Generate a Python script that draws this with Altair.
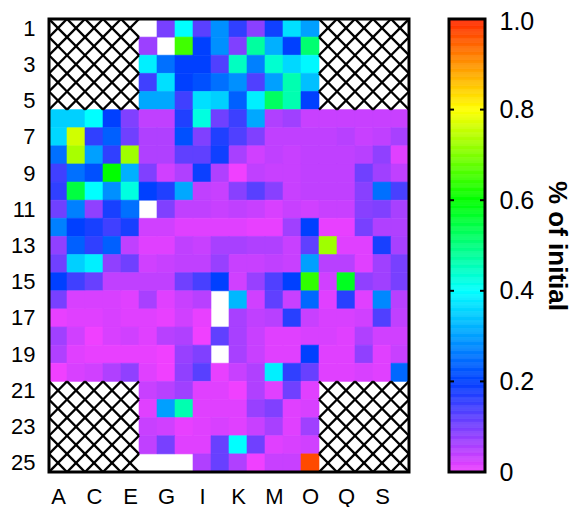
import altair as alt
import pandas as pd

# ---------------- data ----------------
axis_letters = ["A", "C", "E", "G", "I", "K", "M", "O", "Q", "S"]
row_ticks = [1, 3, 5, 7, 9, 11, 13, 15, 17, 19, 21, 23, 25]
N = None  # no value (white cell or hatched)

r1 = [N, N, N, N, N, N, 0.10, 0.40, 0.125, 0.284, 0.16, 0.085, 0.187, 0.368, 0.30, N, N, N, N, N]
r2 = [N, N, N, N, N, 0.07, N, 0.65, 0.20, 0.284, 0.093, 0.475, 0.317, 0.20, 0.512, N, N, N, N, N]
r3 = [N, N, N, N, N, 0.384, 0.25, 0.20, 0.20, 0.133, 0.449, 0.267, 0.437, 0.359, 0.393, N, N, N, N, N]
r4 = [N, N, N, N, N, 0.147, 0.368, 0.20, 0.217, 0.25, 0.284, 0.133, 0.30, 0.462, 0.334, N, N, N, N, N]
r5 = [N, N, N, N, N, 0.309, 0.309, 0.147, 0.368, 0.351, 0.233, 0.384, 0.525, 0.462, 0.20, N, N, N, N, N]
r6 = [0.351, 0.351, 0.40, 0.20, 0.093, 0.04, 0.04, 0.173, 0.424, 0.107, 0.15, 0.309, 0.053, 0.067, 0.033, 0.033, 0.033, 0.033, 0.033, 0.033]
r7 = [0.359, 0.763, 0.16, 0.233, 0.107, 0.053, 0.053, 0.217, 0.093, 0.173, 0.133, 0.093, 0.04, 0.04, 0.04, 0.04, 0.047, 0.033, 0.04, 0.06]
r8 = [0.25, 0.732, 0.30, 0.16, 0.725, 0.053, 0.053, 0.12, 0.12, 0.187, 0.06, 0.027, 0.04, 0.033, 0.04, 0.04, 0.04, 0.047, 0.08, 0.013]
r9 = [0.147, 0.25, 0.217, 0.60, 0.317, 0.093, 0.027, 0.053, 0.19, 0.053, 0.0, 0.04, 0.033, 0.033, 0.04, 0.04, 0.04, 0.107, 0.067, 0.04]
r10 = [0.16, 0.55, 0.40, 0.284, 0.424, 0.20, 0.173, 0.309, 0.04, 0.033, 0.087, 0.127, 0.087, 0.033, 0.04, 0.04, 0.04, 0.087, 0.25, 0.14]
r11 = [0.107, 0.267, 0.08, 0.18, 0.25, N, 0.093, 0.04, 0.04, 0.033, 0.04, 0.033, 0.02, 0.033, 0.027, 0.033, 0.033, 0.087, 0.093, 0.06]
r12 = [0.267, 0.20, 0.18, 0.147, 0.18, 0.027, 0.027, 0.013, 0.013, 0.013, 0.013, 0.007, 0.007, 0.067, 0.20, 0.007, 0.007, 0.10, 0.053, 0.053]
r13 = [0.08, 0.233, 0.16, 0.233, 0.04, 0.013, 0.013, 0.04, 0.033, 0.06, 0.06, 0.053, 0.053, 0.033, 0.12, 0.725, 0.013, 0.013, 0.18, 0.06]
r14 = [0.107, 0.351, 0.384, 0.08, 0.107, 0.027, 0.033, 0.04, 0.04, 0.073, 0.033, 0.033, 0.04, 0.033, 0.30, 0.047, 0.047, 0.013, 0.067, 0.10]
r15 = [0.20, 0.147, 0.113, 0.04, 0.04, 0.04, 0.04, 0.107, 0.14, 0.20, 0.027, 0.073, 0.133, 0.20, 0.638, 0.027, 0.575, 0.08, 0.067, 0.10]
r16 = [0.10, 0.02, 0.02, 0.02, 0.013, 0.06, 0.013, 0.033, 0.047, N, 0.326, 0.027, 0.12, 0.033, 0.242, 0.013, 0.167, 0.013, 0.275, 0.047]
r17 = [0.007, 0.013, 0.013, 0.02, 0.013, 0.013, 0.007, 0.027, 0.007, N, 0.06, 0.04, 0.047, 0.167, 0.033, 0.02, 0.02, 0.027, 0.133, 0.04]
r18 = [0.067, 0.027, 0.0, 0.02, 0.027, 0.013, 0.047, 0.053, 0.0, 0.12, 0.06, 0.033, 0.013, 0.013, 0.02, 0.02, 0.013, 0.053, 0.027, 0.027]
r19 = [0.053, 0.013, 0.007, 0.007, 0.007, 0.007, 0.0, 0.073, 0.093, N, 0.06, 0.033, 0.013, 0.013, 0.20, 0.013, 0.013, 0.08, 0.013, 0.033]
r20 = [0.0, 0.02, 0.027, 0.053, 0.08, 0.013, 0.0, 0.08, 0.127, 0.007, 0.033, 0.053, 0.384, 0.16, 0.113, 0.013, 0.013, 0.02, 0.013, 0.242]
r21 = [N, N, N, N, N, 0.033, 0.047, 0.067, 0.013, 0.013, 0.0, 0.053, 0.013, 0.107, 0.013, N, N, N, N, N]
r22 = [N, N, N, N, N, 0.013, 0.30, 0.462, 0.013, 0.013, 0.013, 0.073, 0.093, 0.013, 0.02, N, N, N, N, N]
r23 = [N, N, N, N, N, 0.033, 0.027, 0.007, 0.013, 0.02, 0.013, 0.033, 0.06, 0.013, 0.067, N, N, N, N, N]
r24 = [N, N, N, N, N, 0.04, 0.10, 0.013, 0.013, 0.113, 0.40, 0.107, 0.013, 0.02, 0.027, N, N, N, N, N]
r25 = [N, N, N, N, N, N, N, N, 0.053, 0.113, 0.053, 0.0, 0.033, 0.033, 0.97, N, N, N, N, N]

rows = [r1, r2, r3, r4, r5, r6, r7, r8, r9, r10, r11, r12, r13, r14, r15,
        r16, r17, r18, r19, r20, r21, r22, r23, r24, r25]

hatch_rows = [1, 2, 3, 4, 5, 21, 22, 23, 24, 25]
hatch_cols = [0, 1, 2, 3, 4, 15, 16, 17, 18, 19]

legend_ticks = [0, 0.2, 0.4, 0.6, 0.8, 1.0]
inner_ticks = [0.2, 0.4, 0.6, 0.8]
stop_colors = ["#f040ff", "#0040ff", "#00ffff", "#00ff00", "#ffff00", "#ff2a00"]

n_cols = 20
n_rows = 25

# ---------------- tables ----------------
cells, hatch = [], []
for i, row in enumerate(rows, start=1):
    for c, v in enumerate(row):
        if i in hatch_rows and c in hatch_cols:
            hatch.append(dict(c0=c, r0=i - 1, c1=c + 1, r1=i))
            hatch.append(dict(c0=c + 1, r0=i - 1, c1=c, r1=i))
        elif v is not None:
            cells.append(dict(c0=c, c1=c + 1, r0=i - 1, r1=i, v=v))
cells_df = pd.DataFrame(cells)
hatch_df = pd.DataFrame(hatch)
frame_df = pd.DataFrame({"c0": [0], "c1": [n_cols], "r0": [0], "r1": [n_rows]})

steps = 400
bar_df = pd.DataFrame({
    "b0": [k / steps for k in range(steps)],
    "b1": [(k + 1) / steps for k in range(steps)],
    "v": [(k + 0.5) / steps for k in range(steps)],
})
tick_df = pd.DataFrame({"b0": inner_ticks})
bframe_df = pd.DataFrame({"b0": [0.0], "b1": [1.0]})

FONT = "Liberation Sans"
BAR_W = 36
cscale = alt.Scale(type="linear", domain=legend_ticks, range=stop_colors, interpolate="rgb")

xs = alt.Scale(domain=[0, n_cols], nice=False, zero=False)
ys = alt.Scale(domain=[0, n_rows], nice=False, zero=False, reverse=True)

letters_expr = "[" + ",".join(f"'{s}'" for s in axis_letters) + "][floor(datum.value/2)]"
xaxis = alt.Axis(values=[2 * k + 0.5 for k in range(len(axis_letters))], labelExpr=letters_expr,
                 ticks=False, domain=False, grid=False, labelFontSize=22, labelPadding=14,
                 labelAngle=0, title=None, labelFont=FONT, labelColor="black",
                 labelOverlap=False, labelFlush=False)
yaxis = alt.Axis(values=[t - 0.5 for t in row_ticks], labelExpr="floor(datum.value)+1",
                 ticks=False, domain=False, grid=False, labelFontSize=22, labelPadding=14,
                 title=None, labelFont=FONT, labelColor="black", labelOverlap=False,
                 labelFlush=False)

X = alt.X("c0:Q", scale=xs, axis=xaxis)
Y = alt.Y("r0:Q", scale=ys, axis=yaxis)

rects = alt.Chart(cells_df).mark_rect(strokeWidth=0.6).encode(
    x=X, x2="c1:Q", y=Y, y2="r1:Q",
    color=alt.Color("v:Q", scale=cscale, legend=None),
    stroke=alt.Stroke("v:Q", scale=cscale, legend=None),
)
hatch_layer = alt.Chart(hatch_df).mark_rule(color="black", strokeWidth=2.3, clip=True).encode(
    x=X, y=Y, x2="c1:Q", y2="r1:Q")
frame = alt.Chart(frame_df).mark_rect(fill="transparent", stroke="black", strokeWidth=3).encode(
    x=X, x2="c1:Q", y=Y, y2="r1:Q")

heat = alt.layer(rects, hatch_layer, frame).properties(width=360, height=453)

bscale = alt.Scale(domain=[0, 1], nice=False, zero=False)
baxis = alt.Axis(orient="right", values=legend_ticks,
                 labelExpr="datum.value == 0 ? '0' : format(datum.value, '.1f')",
                 labelOffset={"condition": {"test": "datum.value >= 1", "value": 2}, "value": 0},
                 ticks=False, domain=False, grid=False, labelFontSize=25, labelPadding=14,
                 labelFont=FONT, labelColor="black", labelOverlap=False, labelFlush=False,
                 title="% of initial", titleFont=FONT,
                 titleFontSize=26, titleFontWeight="bold", titleAngle=90, titlePadding=10,
                 titleColor="black")
BY = alt.Y("b0:Q", scale=bscale, axis=baxis)
bar = alt.Chart(bar_df).mark_rect(strokeWidth=0.5).encode(
    y=BY, y2="b1:Q",
    x=alt.value(0), x2=alt.value(BAR_W),
    color=alt.Color("v:Q", scale=cscale, legend=None),
    stroke=alt.Stroke("v:Q", scale=cscale, legend=None),
)
lt = alt.Chart(tick_df).mark_rule(color="black", strokeWidth=2).encode(
    y=BY, x=alt.value(0), x2=alt.value(5))
rt = alt.Chart(tick_df).mark_rule(color="black", strokeWidth=2).encode(
    y=BY, x=alt.value(BAR_W - 5), x2=alt.value(BAR_W))
bframe = alt.Chart(bframe_df).mark_rect(fill="transparent", stroke="black", strokeWidth=3).encode(
    y=BY, y2="b1:Q", x=alt.value(0), x2=alt.value(BAR_W))
cbar = alt.layer(bar, lt, rt, bframe).properties(width=BAR_W, height=453)

chart = alt.hconcat(heat, cbar, spacing=36).resolve_scale(
    x="independent", y="independent"
).properties(
    padding={"left": 2, "top": 1, "right": 4, "bottom": 0}
).configure_view(stroke=None).configure_axis(labelOverlap=False)

chart.save("out.html", embed_options={"renderer": "svg", "actions": False})
